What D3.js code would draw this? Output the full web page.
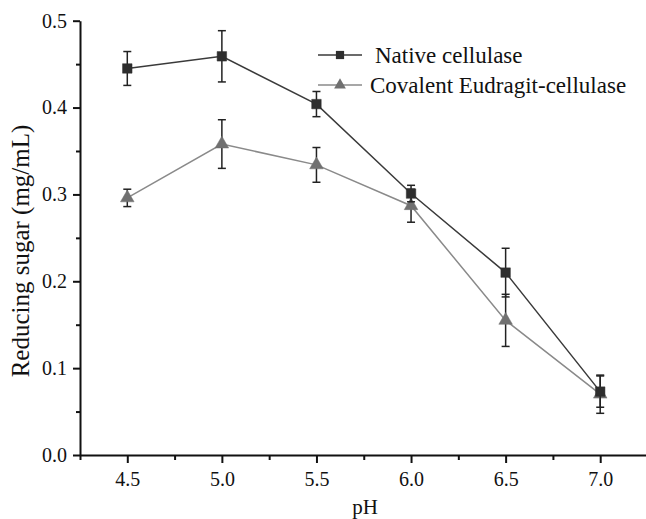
<!DOCTYPE html>
<html>
<head>
<meta charset="utf-8">
<script src="https://cdn.jsdelivr.net/npm/d3@7"></script>
<style>
  html, body { margin: 0; padding: 0; background: #fff; }
  svg { display: block; }
  svg text { font-family: "Liberation Serif", "DejaVu Serif", serif !important; fill: #111; }
</style>
</head>
<body>
<svg id="chart" width="646" height="519"></svg>
<script>
// ---- data ----
const pH = [4.5, 5.0, 5.5, 6.0, 6.5, 7.0];
const nativeValues = [0.445, 0.459, 0.404, 0.301, 0.210, 0.073];
const nativeErrors = [0.0195, 0.0295, 0.0145, 0.0095, 0.028, 0.018];
const covalentValues = [0.296, 0.358, 0.334, 0.287, 0.155, 0.070];
const covalentErrors = [0.010, 0.028, 0.020, 0.019, 0.030, 0.022];
const seriesNames = ["Native cellulase", "Covalent Eudragit-cellulase"];
const xTicks = [4.5, 5.0, 5.5, 6.0, 6.5, 7.0];
const xMinorTicks = [4.25, 4.75, 5.25, 5.75, 6.25, 6.75, 7.25];
const yTicks = [0.0, 0.1, 0.2, 0.3, 0.4, 0.5];
const yMinorTicks = [0.05, 0.15, 0.25, 0.35, 0.45];
const xTitle = "pH";
const yTitle = "Reducing sugar (mg/mL)";

const FONT = "'Liberation Serif', 'DejaVu Serif', serif";

// ---- layout ----
const svg = d3.select("#chart");
const x = d3.scaleLinear().domain([4.25, 7.25]).range([80, 647.5]);
const y = d3.scaleLinear().domain([0, 0.5]).range([455, 20.7]);

// minor ticks
svg.append("g").attr("transform", `translate(0,${y(0)})`)
  .call(d3.axisBottom(x).tickValues(xMinorTicks).tickSize(5).tickFormat(""))
  .call(g => g.select(".domain").remove())
  .call(g => g.selectAll("line").attr("stroke", "#111").attr("stroke-width", 2));
svg.append("g").attr("transform", `translate(${x(4.25)},0)`)
  .call(d3.axisLeft(y).tickValues(yMinorTicks).tickSize(4).tickFormat(""))
  .call(g => g.select(".domain").remove())
  .call(g => g.selectAll("line").attr("stroke", "#111").attr("stroke-width", 2));

// major axes
const xAxis = svg.append("g").attr("transform", `translate(0,${y(0)})`)
  .call(d3.axisBottom(x).tickValues(xTicks).tickSize(8).tickSizeOuter(0).tickPadding(8).tickFormat(d3.format(".1f")));
const yAxis = svg.append("g").attr("transform", `translate(${x(4.25)},0)`)
  .call(d3.axisLeft(y).tickValues(yTicks).tickSize(7).tickSizeOuter(0).tickPadding(6).tickFormat(d3.format(".1f")));
[xAxis, yAxis].forEach(a => {
  a.attr("font-family", FONT);
  a.select(".domain").attr("stroke", "#111").attr("stroke-width", 2);
  a.selectAll(".tick line").attr("stroke", "#111").attr("stroke-width", 2);
  a.selectAll(".tick text").style("font-family", FONT).attr("font-size", 20).attr("fill", "#111");
});
xAxis.selectAll(".tick text").attr("dy", "0.75em");

// axis titles
svg.append("text").attr("x", 365).attr("y", 514).attr("text-anchor", "middle")
  .style("font-family", FONT).attr("font-size", 21).text(xTitle);
svg.append("text").attr("transform", `translate(29,251) rotate(-90)`)
  .attr("text-anchor", "middle").style("font-family", FONT).attr("font-size", 25).text(yTitle);

const series = [
  { name: seriesNames[0], values: nativeValues, errors: nativeErrors, line: "#3a3a3a", fill: "#2e2e2e", shape: d3.symbolSquare, size: 90 },
  { name: seriesNames[1], values: covalentValues, errors: covalentErrors, line: "#8a8a8a", fill: "#707070", shape: d3.symbolTriangle, size: 80 }
];

const lineGen = d3.line().x(d => x(d.x)).y(d => y(d.y));

// draw covalent first then native on top
[series[1], series[0]].forEach(s => {
  const pts = pH.map((p, i) => ({ x: p, y: s.values[i], e: s.errors[i] }));
  svg.append("path").datum(pts).attr("d", lineGen)
    .attr("fill", "none").attr("stroke", s.line).attr("stroke-width", 1.5);
  const eb = svg.append("g").attr("stroke", "#222").attr("stroke-width", 1.5);
  pts.forEach(d => {
    eb.append("line").attr("x1", x(d.x)).attr("x2", x(d.x)).attr("y1", y(d.y + d.e)).attr("y2", y(d.y - d.e));
    [d.y + d.e, d.y - d.e].forEach(v => {
      eb.append("line").attr("x1", x(d.x) - 4).attr("x2", x(d.x) + 4).attr("y1", y(v)).attr("y2", y(v));
    });
  });
  svg.append("g").selectAll("path").data(pts).join("path")
    .attr("transform", d => `translate(${x(d.x)},${y(d.y)})`)
    .attr("d", d3.symbol().type(s.shape).size(s.size))
    .attr("fill", s.fill).attr("stroke", s.fill).attr("stroke-width", 0.5);
});

// legend
const legend = svg.append("g");
series.forEach((s, i) => {
  const ly = 55 + i * 30;
  legend.append("line").attr("x1", 318).attr("x2", 362).attr("y1", ly).attr("y2", ly)
    .attr("stroke", s.line).attr("stroke-width", 1.5);
  legend.append("path").attr("transform", `translate(340,${ly})`)
    .attr("d", d3.symbol().type(s.shape).size(s.size * 0.75)).attr("fill", s.fill);
  legend.append("text").attr("x", i === 0 ? 375 : 370).attr("y", ly + 8)
    .style("font-family", FONT).attr("font-size", 23).text(s.name);
});
</script>
</body>
</html>
